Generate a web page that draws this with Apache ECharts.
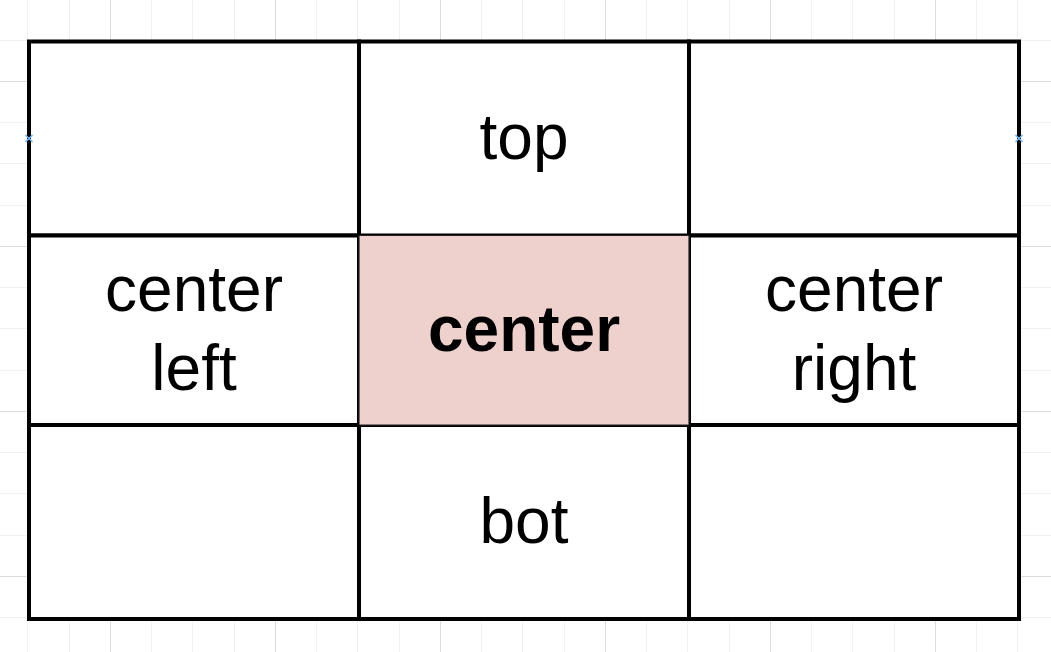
<!DOCTYPE html>
<html>
  <head>
    <meta charset="utf-8">
    <title>grid diagram</title>
    <script src="https://cdn.jsdelivr.net/npm/echarts@6/dist/echarts.min.js"></script>
    <style>
      html, body { margin: 0; padding: 0; background: #ffffff; }
      #main { width: 1051px; height: 652px; }
    </style>
  </head>
  <body>
    <div id="main"></div>
    <script type="text/javascript">
      // cell edges of the 3x3 layout (diagram units, px as drawn)
      var colEdges = [0, 330, 660, 990];
      var rowEdges = [0, 194, 383.5, 577.5];
      // labels per row, per column
      var cellLabels = [
        ['', 'top', ''],
        ['center\nleft', 'center', 'center\nright'],
        ['', 'bot', '']
      ];
      var highlightCell = [1, 1];
      // connection markers: [column edge index, row index]
      var markers = [[0, 0], [3, 0]];

      var cells = [];
      var hiItem = null;
      for (var r = 0; r < cellLabels.length; r++) {
        for (var c = 0; c < cellLabels[r].length; c++) {
          var item = [c, r, cellLabels[r][c]];
          if (c == highlightCell[0] && r == highlightCell[1]) hiItem = item;
          else cells.push(item);
        }
      }
      cells.push(hiItem); // drawn last, over the neighbours' borders

      function renderCell(params, api) {
        var c = api.value(0), r = api.value(1);
        var label = cellLabels[r][c];
        var p0 = api.coord([colEdges[c], rowEdges[r]]);
        var p1 = api.coord([colEdges[c + 1], rowEdges[r + 1]]);
        var hi = (c == highlightCell[0] && r == highlightCell[1]);
        return {
          type: 'group',
          children: [
            {
              type: 'rect',
              shape: { x: p0[0], y: p0[1], width: p1[0] - p0[0], height: p1[1] - p0[1] },
              style: {
                fill: hi ? '#eed1cd' : '#ffffff',
                stroke: hi ? '#222222' : '#000000',
                lineWidth: hi ? 1.2 : 4
              }
            },
            {
              type: 'text',
              style: {
                text: label,
                x: (p0[0] + p1[0]) / 2,
                y: (p0[1] + p1[1]) / 2 + 3,
                align: 'center',
                verticalAlign: 'middle',
                fill: '#000000',
                fontFamily: '"Liberation Sans", Arial, sans-serif',
                fontSize: 64,
                fontWeight: hi ? 'bold' : 'normal',
                lineHeight: 79
              }
            }
          ]
        };
      }

      function renderMarker(params, api) {
        var e = api.value(0), r = api.value(1);
        var p = api.coord([colEdges[e], (rowEdges[r] + rowEdges[r + 1]) / 2]);
        var s = 3.5;
        return {
          type: 'group',
          children: [
            { type: 'line', shape: { x1: p[0] - s, y1: p[1] - s, x2: p[0] + s, y2: p[1] + s },
              style: { stroke: '#6fb0ee', lineWidth: 1.6 } },
            { type: 'line', shape: { x1: p[0] - s, y1: p[1] + s, x2: p[0] + s, y2: p[1] - s },
              style: { stroke: '#6fb0ee', lineWidth: 1.6 } }
          ]
        };
      }

      var myChart = echarts.init(document.getElementById('main'));
      myChart.setOption({
        backgroundColor: '#ffffff',
        animation: false,
        grid: [
          // page background grid, one unit = 41.25px
          { left: -55, top: -84, width: 1155, height: 825, show: false, outerBoundsMode: 'none' },
          // the diagram itself
          { left: 29, top: 41.5, width: 990, height: 577.5, show: false, outerBoundsMode: 'none' }
        ],
        xAxis: [
          { gridIndex: 0, type: 'value', min: -4, max: 24, interval: 1,
            axisLine: { show: false }, axisTick: { show: false }, axisLabel: { show: false },
            splitLine: { show: true, lineStyle: { color: '#f0f0f0', width: 1 } } },
          { gridIndex: 0, type: 'value', min: -4, max: 24, interval: 4,
            axisLine: { show: false }, axisTick: { show: false }, axisLabel: { show: false },
            splitLine: { show: true, lineStyle: { color: '#dcdcdc', width: 1 } } },
          { gridIndex: 1, type: 'value', min: 0, max: 990, show: false, splitLine: { show: false } }
        ],
        yAxis: [
          { gridIndex: 0, type: 'value', inverse: true, min: -4, max: 16, interval: 1,
            axisLine: { show: false }, axisTick: { show: false }, axisLabel: { show: false },
            splitLine: { show: true, lineStyle: { color: '#f0f0f0', width: 1 } } },
          { gridIndex: 0, type: 'value', inverse: true, min: -4, max: 16, interval: 4,
            axisLine: { show: false }, axisTick: { show: false }, axisLabel: { show: false },
            splitLine: { show: true, lineStyle: { color: '#dcdcdc', width: 1 } } },
          { gridIndex: 1, type: 'value', inverse: true, min: 0, max: 577.5, show: false, splitLine: { show: false } }
        ],
        series: [
          {
            type: 'custom',
            xAxisIndex: 2,
            yAxisIndex: 2,
            renderItem: renderCell,
            data: cells,
            silent: true,
            z: 2
          },
          {
            type: 'custom',
            xAxisIndex: 2,
            yAxisIndex: 2,
            renderItem: renderMarker,
            data: markers,
            silent: true,
            z: 3
          }
        ]
      });
    </script>
  </body>
</html>
